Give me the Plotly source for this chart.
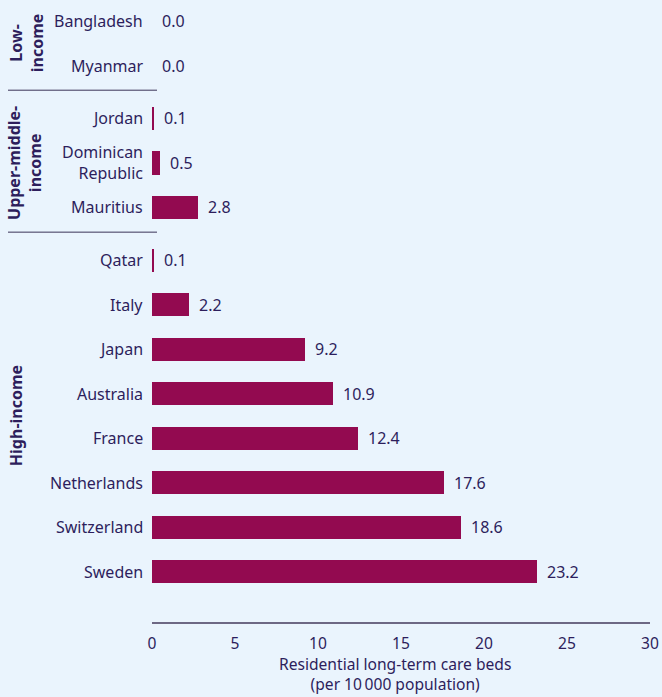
import plotly.graph_objects as go

# ---- data ----
groups = ["Low-<br>income", "Upper-middle-<br>income", "High-income"]
group_of = [0, 0, 1, 1, 1, 2, 2, 2, 2, 2, 2, 2, 2]
countries = ["Bangladesh", "Myanmar", "Jordan", "Dominican<br>Republic", "Mauritius",
             "Qatar", "Italy", "Japan", "Australia", "France", "Netherlands",
             "Switzerland", "Sweden"]
beds = [0.0, 0.0, 0.1, 0.5, 2.8, 0.1, 2.2, 9.2, 10.9, 12.4, 17.6, 18.6, 23.2]
x_ticks = [0, 5, 10, 15, 20, 25, 30]

# ---- style ----
BG = "#EAF4FD"
BAR = "#930A50"
TXT = "#2D1E5C"
AXIS = "#6D6884"
FONT = "Noto Sans"
FS = 16
GAP = 0.19

pos = [i + g * GAP for i, g in enumerate(group_of)]

fig = go.Figure()
fig.add_trace(go.Bar(
    x=beds, y=pos, orientation="h", width=0.52,
    marker=dict(color=BAR, line=dict(width=0)),
    hoverinfo="skip",
))

ann = []
# value labels
for v, p in zip(beds, pos):
    ann.append(dict(x=v, y=p, xref="x", yref="y", text=f"{v:.1f}",
                    showarrow=False, xanchor="left", yanchor="middle", xshift=8,
                    font=dict(family=FONT, size=FS, color=TXT)))
# category labels
for c, p in zip(countries, pos):
    ann.append(dict(x=0, y=p, xref="paper", yref="y", text=c, align="right",
                    showarrow=False, xanchor="right", yanchor="middle", xshift=-7,
                    font=dict(family=FONT, size=FS, color=TXT)))
# group labels
plot_left = 152
plot_w = 498
group_px = [26, 25, 16]
for gi, name in enumerate(groups):
    ps = [p for p, g in zip(pos, group_of) if g == gi]
    ann.append(dict(x=(group_px[gi] - plot_left) / plot_w, y=(ps[0] + ps[-1]) / 2,
                    xref="paper", yref="y", text=f"<b>{name}</b>", textangle=-90,
                    showarrow=False, xanchor="center", yanchor="middle",
                    font=dict(family=FONT, size=FS, color=TXT)))
# axis title
ann.append(dict(x=0.5, y=0, xref="paper", yref="paper",
                text="Residential long-term care beds<br>(per 10\u202f000 population)",
                showarrow=False, xanchor="center", yanchor="top", yshift=-30, xshift=-6,
                borderpad=0,
                font=dict(family=FONT, size=15.6, color=TXT)))

# separator lines between groups
shapes = []
for gi in range(len(groups) - 1):
    last = max(p for p, g in zip(pos, group_of) if g == gi)
    first = min(p for p, g in zip(pos, group_of) if g == gi + 1)
    y = (last + first) / 2 - 0.04
    shapes.append(dict(type="line", xref="paper", yref="y",
                       x0=(8 - plot_left) / plot_w, x1=(157 - plot_left) / plot_w,
                       y0=y, y1=y, line=dict(color="#3A3357", width=1)))

fig.update_layout(
    width=662, height=697,
    paper_bgcolor=BG, plot_bgcolor=BG,
    margin=dict(l=152, r=12, t=0, b=75),
    showlegend=False,
    annotations=ann, shapes=shapes,
    bargap=0,
    font=dict(family=FONT, size=FS, color=TXT),
    xaxis=dict(range=[0, 30], tickvals=x_ticks, ticktext=[str(t) for t in x_ticks],
               showgrid=False, zeroline=False, showline=True, linecolor=AXIS,
               linewidth=1.5, ticks="outside", ticklen=7, tickcolor=BG,
               tickfont=dict(family=FONT, size=15.6, color=TXT), fixedrange=True),
    yaxis=dict(range=[13.506, -0.472], showticklabels=False, showgrid=False,
               zeroline=False, showline=False, ticks="", fixedrange=True),
)

fig.write_html(
    "out.html",
    config={"displayModeBar": False},
    post_script="document.body.style.margin='0';document.body.style.overflow='hidden';"
                "document.body.style.background='" + BG + "';",
)
